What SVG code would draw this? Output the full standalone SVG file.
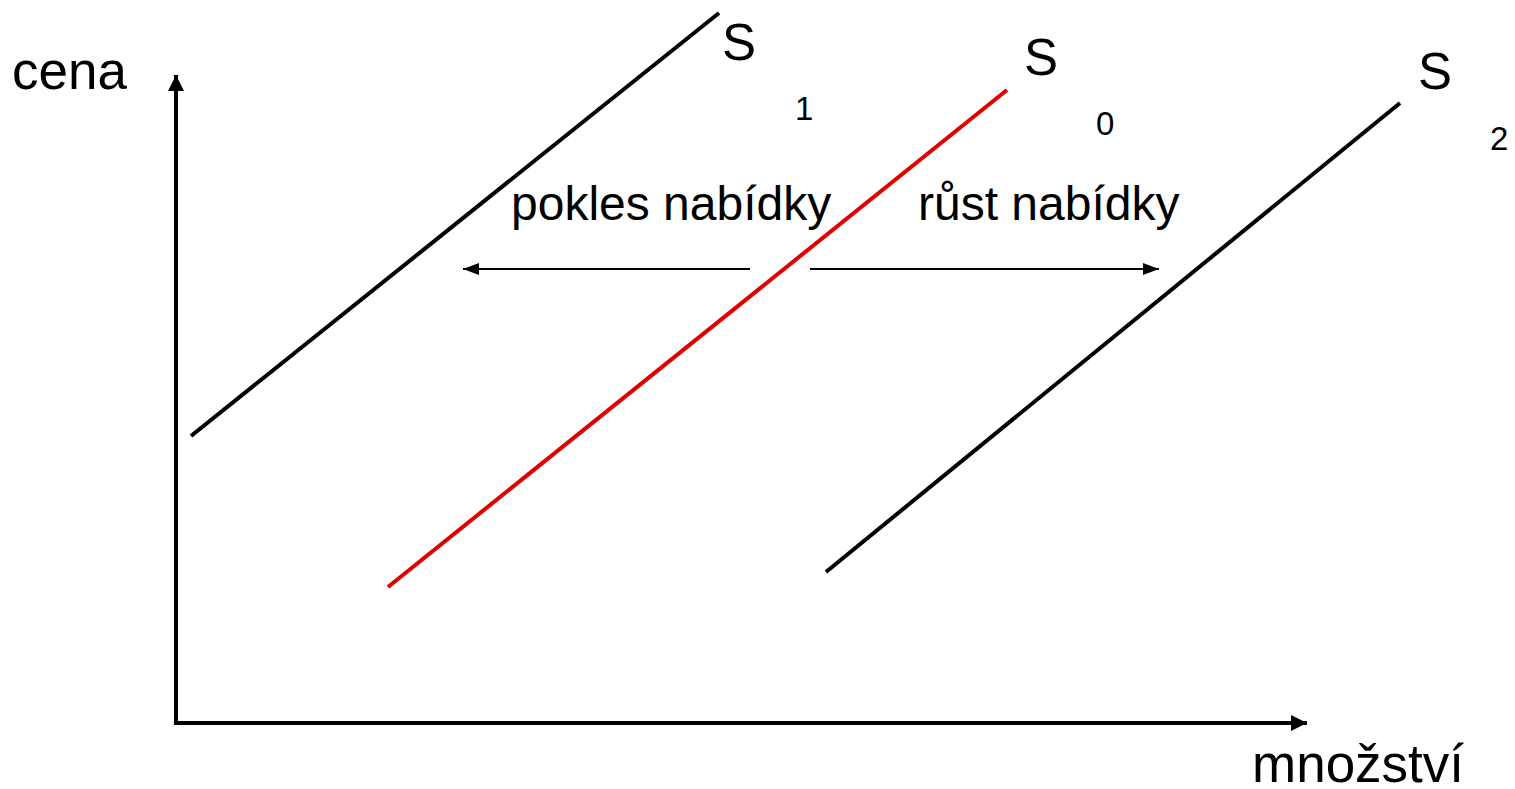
<svg xmlns="http://www.w3.org/2000/svg" width="1515" height="789" viewBox="0 0 1515 789">
<style>
text{font-family:"Liberation Sans",Arial,sans-serif;fill:#000}
.ax{font-size:53px}
.big{font-size:48px}
.s{font-size:51px}
.sub{font-size:33px}
.axl{stroke:#000;stroke-width:4;fill:none}
.ln{stroke-width:4;fill:none}
.sh{stroke:#000;stroke-width:2;fill:none}
</style>
<defs>
<marker id="ah" markerUnits="userSpaceOnUse" markerWidth="18" markerHeight="16" refX="16" refY="8" orient="auto"><path d="M0,0 L16,8 L0,16 Z" fill="#000"/></marker>
<marker id="as" markerUnits="userSpaceOnUse" markerWidth="16" markerHeight="12" refX="16" refY="6" orient="auto"><path d="M0,0 L16,6 L0,12 Z" fill="#000"/></marker>
</defs>
<g id="axes">
<path class="axl" d="M176,723 L176,75" marker-end="url(#ah)"/>
<path class="axl" d="M174,723 L1307,723" marker-end="url(#ah)"/>
<text class="ax" x="12" y="89">cena</text>
<text class="ax" x="1252" y="782">množství</text>
</g>
<g id="S1">
<line class="ln" stroke="#000" x1="191" y1="436" x2="719" y2="13"/>
<text class="s" x="722" y="60">S</text>
<text class="sub" x="795" y="120">1</text>
</g>
<g id="S0">
<line class="ln" stroke="#e00000" x1="388" y1="587" x2="1007" y2="90"/>
<text class="s" x="1024" y="75">S</text>
<text class="sub" x="1096" y="135">0</text>
</g>
<g id="S2">
<line class="ln" stroke="#000" x1="826" y1="572" x2="1400" y2="103"/>
<text class="s" x="1418" y="89">S</text>
<text class="sub" x="1490" y="150">2</text>
</g>
<g id="connectors">
<path class="sh" d="M750,269 L463,269" marker-end="url(#as)"/>
<path class="sh" d="M810,269 L1159,269" marker-end="url(#as)"/>
</g>
<g id="labels">
<text class="big" x="511" y="220">pokles nabídky</text>
<text class="big" x="918" y="220">růst nabídky</text>
</g>
</svg>
